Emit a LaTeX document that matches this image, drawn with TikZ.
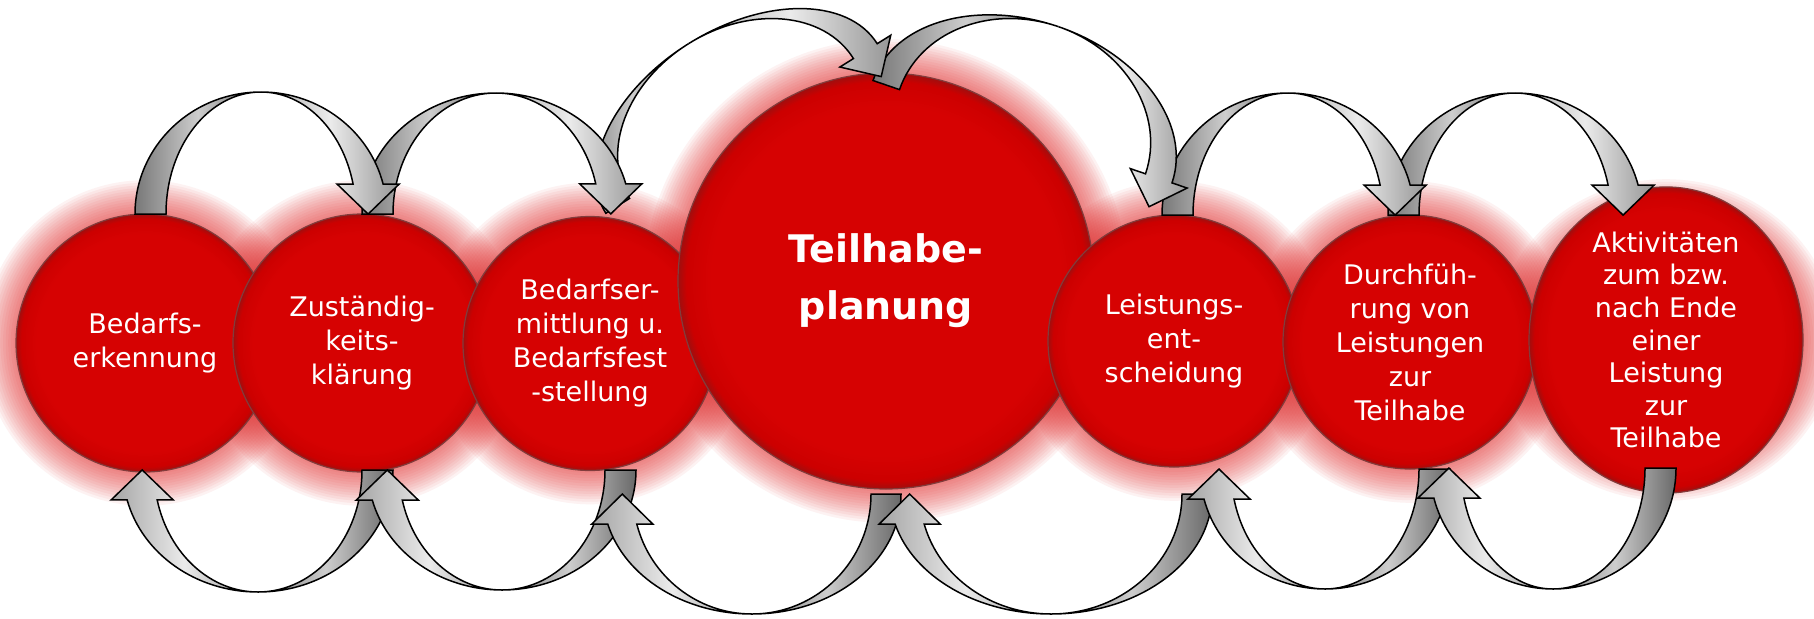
\documentclass[tikz,border=0pt]{standalone}
\usepackage{fontspec}
\setmainfont{DejaVu Sans}
\usetikzlibrary{shapes.geometric}
\definecolor{redA}{RGB}{214,2,2}
\definecolor{redB}{RGB}{204,0,0}
\definecolor{redC}{RGB}{160,14,14}
\definecolor{rimc}{RGB}{130,60,60}
\definecolor{glowc}{RGB}{228,40,40}
\definecolor{gA}{RGB}{120,120,120}
\definecolor{gB}{RGB}{205,205,205}
\definecolor{gE}{RGB}{105,105,105}
\definecolor{gC}{RGB}{235,235,235}
\definecolor{gD}{RGB}{165,165,165}
\definecolor{gF}{RGB}{150,150,150}
\pgfdeclareradialshading{redbubble}{\pgfpoint{0bp}{0bp}}{color(0bp)=(redA); color(21bp)=(redA); color(24bp)=(redB); color(25bp)=(redC); color(50bp)=(redC)}
\newcommand\hl{30}
\newcommand\ow{16}
% #1 cx, #2 cy, #3 rotation, #4 outer x radius, #5 y radius, #6 band width, #7 head angle
\newcommand\arrowband[7]{%
\begin{scope}[shift={(#1,#2)}, rotate=#3]
\path[baseleg] (-#4,0) arc[start angle=180,end angle=90,x radius=#4,y radius=#5]
  arc[start angle=90,end angle=180,x radius={#4-#6},y radius=#5] -- cycle;
\path[headleg] (0,#5) arc[start angle=90,end angle=#7,x radius=#4,y radius=#5]
  -- ++(\ow,0) -- ({(#4-#6/2)*cos(#7)},{#5*sin(#7)-\hl})
  -- ({(#4-#6)*cos(#7)-\ow},{#5*sin(#7)}) -- ({(#4-#6)*cos(#7)},{#5*sin(#7)})
  arc[start angle=#7,end angle=90,x radius={#4-#6},y radius=#5] -- cycle;
\end{scope}}
\newcommand\glowat[4]{\foreach \k in {1,...,13}{\fill[glowc, fill opacity=0.06] (#1,#2) ellipse[x radius={#3+2.6*\k}, y radius={#4+2.6*\k}];}}
\tikzset{
  bubble/.style={circle, inner sep=0pt, outer sep=0pt, draw=rimc, line width=0.6pt,
    shading=redbubble, text=white, align=center, font=\fontsize{13.5}{17}\selectfont},
  baseleg/.style={draw=black, line width=0.75pt, line join=miter, left color=gA, right color=gE, middle color=gB},
  headleg/.style={draw=black, line width=0.75pt, line join=miter, left color=gD, right color=gF, middle color=gC}
}
\begin{document}
\begin{tikzpicture}[x=0.5pt, y=0.5pt]
\useasboundingbox (0,0) rectangle (1814,618);
\fill[white] (0,0) rectangle (1814,618);
% glows
\glowat{145}{275}{129}{129}
\glowat{362}{275}{129}{129}
\glowat{590}{274.5}{127}{127}
\glowat{886}{337}{208}{208}
\glowat{1174}{277}{126}{126}
\glowat{1410}{276}{127}{127}
\glowat{1666}{278}{137}{127}
% circles
\node[bubble, minimum size=129pt] (c1) at (145,275) {Bedarfs-\\erkennung};
\node[bubble, minimum size=129pt] (c2) at (362,275) {Zuständig-\\keits-\\klärung};
\node[bubble, minimum size=127pt] (c3) at (590,274.5) {Bedarfser-\\mittlung u.\\Bedarfsfest\\-stellung};
\node[bubble, minimum size=208pt, font=\bfseries\fontsize{19}{28.5}\selectfont] (c4) at (886,337) {Teilhabe-\\planung};
\node[bubble, minimum size=126pt] (c5) at (1174,277) {Leistungs-\\ent-\\scheidung};
\node[bubble, minimum size=127pt] (c6) at (1410,276) {Durchfüh-\\rung von\\Leistungen\\zur\\Teilhabe};
\node[bubble, ellipse, minimum width=137pt, minimum height=127pt, font=\fontsize{13.5}{16.3}\selectfont] (c7) at (1666,278) {Aktivitäten\\zum bzw.\\nach Ende\\einer\\Leistung\\zur\\Teilhabe};
% bottom arrows (backwards)
\arrowband{258}{148}{180}{135}{122}{31}{14.2}
\arrowband{502}{148}{180}{134}{120}{31}{14.5}
\arrowband{752}{124}{180}{149}{120}{30}{14.5}
\arrowband{1051}{124}{180}{161}{120}{30}{14.5}
\arrowband{1325}{149}{180}{125}{120}{31}{14.5}
\arrowband{1553}{150}{180}{123}{121}{31}{14.4}
% top arrows (forwards)
\arrowband{1515}{403}{0}{127}{122}{31}{14.2}
\arrowband{1288}{403}{0}{126}{122}{31}{14.2}
\arrowband{1022.5}{486.3}{-18.9}{158}{111}{28}{0}
\arrowband{741.5}{489.5}{32}{160}{100}{28}{0}
\arrowband{496}{404}{0}{134}{121}{31}{14.4}
\arrowband{261}{404}{0}{126}{122}{31}{14.2}
\end{tikzpicture}
\end{document}
